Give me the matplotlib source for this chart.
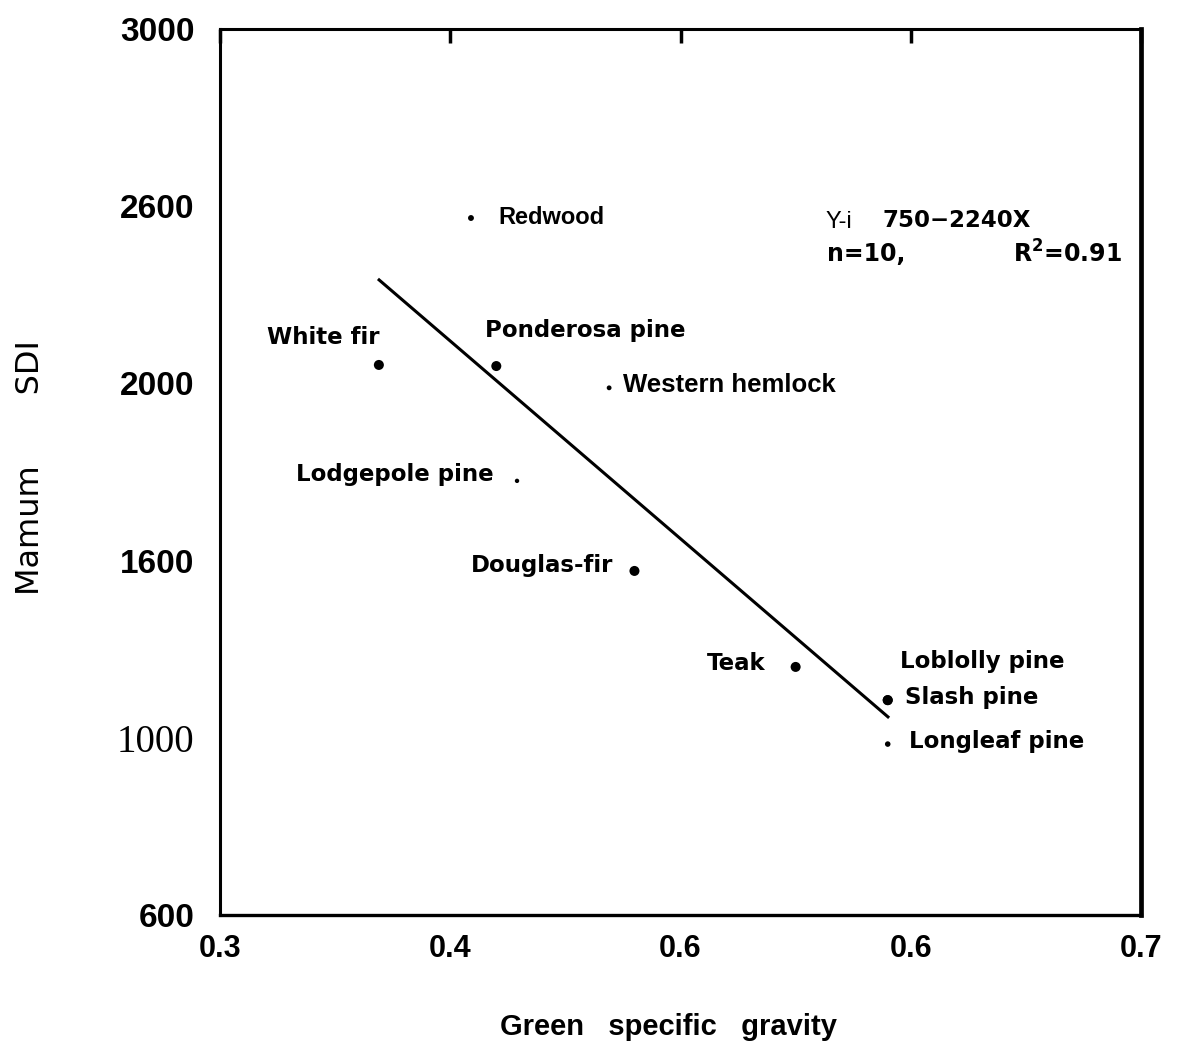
import matplotlib
matplotlib.use("Agg")
import matplotlib.pyplot as plt
import numpy as np

#data
species = ["Redwood", "White fir", "Ponderosa pine", "Western hemlock",
           "Lodgepole pine", "Douglas-fir", "Teak", "Loblolly pine",
           "Slash pine", "Longleaf pine"]
gravity = [0.409, 0.369, 0.420, 0.469, 0.429, 0.480, 0.550, 0.590, 0.590, 0.590]
sdi = [2488, 2090, 2087, 2028, 1776, 1532, 1272, 1182, 1182, 1063]

#fitted line end points
line_x = [0.3686, 0.5906]
line_y = [2323, 1134]

xtick_vals = [0.3, 0.4, 0.5, 0.6, 0.7]
xtick_text = ["0.3", "0.4", "0.6", "0.6", "0.7"]
ytick_text = ["600", "1000", "1600", "2000", "2600", "3000"]

#styles (dot size, label offset in pixels, alignment, font)
dot_size = [18, 52, 52, 12, 10, 52, 52, 52, 52, 16]
offsets = [(27, 1), (-112, 27), (-11, 36), (14, 3), (-23, 6),
           (-21, 5), (-30, 3), (12, 39), (17, 3), (21, 3)]
aligns = ["left", "left", "left", "left", "right", "right", "right",
          "left", "left", "left"]
round_font = "DejaVu Sans"
arial = "Liberation Sans"
fonts = [arial, round_font, round_font, arial, round_font, round_font,
         round_font, round_font, round_font, round_font]
sizes = [17, 16.5, 16.5, 18.5, 16.5, 16.5, 16.5, 16.5, 16.5, 16.5]

fig = plt.figure(figsize=(11.8, 10.47), dpi=100)
ax = fig.add_axes([220 / 1180, 1 - 915 / 1047, 921 / 1180, 886 / 1047])
ax.set_xlim(0.3, 0.7)
ax.set_ylim(600, 3000)


def px(x, y):
    #picture pixel -> data coords, only for placing the equation text
    return 0.3 + (x - 220) / 2302.5, 600 + (915 - y) * 2400 / 886


ax.plot(line_x, line_y, color="black", lw=2.2, solid_capstyle="butt")
ax.scatter(gravity, sdi, s=dot_size, color="black", zorder=3, linewidths=0)

for i in range(len(species)):
    ax.annotate(species[i], (gravity[i], sdi[i]), xytext=offsets[i],
                textcoords="offset pixels", ha=aligns[i], va="center",
                fontsize=sizes[i], fontweight="bold", family=fonts[i])

#equation text
ax.text(*px(826, 222), "Y-i", fontsize=17, family=arial,
        va="center", ha="left")
ax.text(*px(883, 221), "750\u22122240X", fontsize=16.5, family=round_font,
        fontweight="bold", va="center", ha="left")
ax.text(*px(827, 254), "n=10,", fontsize=17, family=round_font,
        fontweight="bold", va="center", ha="left")
ax.text(*px(1013, 254), "R$^\\mathbf{2}$=0.91", fontsize=17,
        family=round_font, fontweight="bold", va="center", ha="left")

ax.set_xticks(xtick_vals)
ax.set_xticklabels(xtick_text, fontsize=22, fontweight="bold", family=arial)
ax.set_yticks(np.linspace(600, 3000, len(ytick_text)))
ax.set_yticklabels(ytick_text, fontsize=24, fontweight="bold", family=arial)
for lbl in ax.get_yticklabels():
    if lbl.get_text() == "1000":
        lbl.set_fontfamily("Liberation Serif")
        lbl.set_fontweight("normal")
        lbl.set_fontsize(28)

ax.tick_params(axis="x", bottom=False, top=True, direction="in",
               length=10, width=2.5, pad=14)
ax.tick_params(axis="y", left=False, pad=15)

ax.spines["left"].set_linewidth(2.2)
ax.spines["bottom"].set_linewidth(2.4)
ax.spines["top"].set_linewidth(2.2)
ax.spines["right"].set_linewidth(3.4)

ax.set_xlabel("Green   specific   gravity", fontsize=21, fontweight="bold",
              family=arial, va="center")
ax.xaxis.set_label_coords(0.4869, -0.1264)
ax.set_ylabel("Mamum       SDI", fontsize=23, family=round_font, va="center")
ax.yaxis.set_label_coords(-0.206, 0.5045)

fig.savefig("out.png", dpi=100)
